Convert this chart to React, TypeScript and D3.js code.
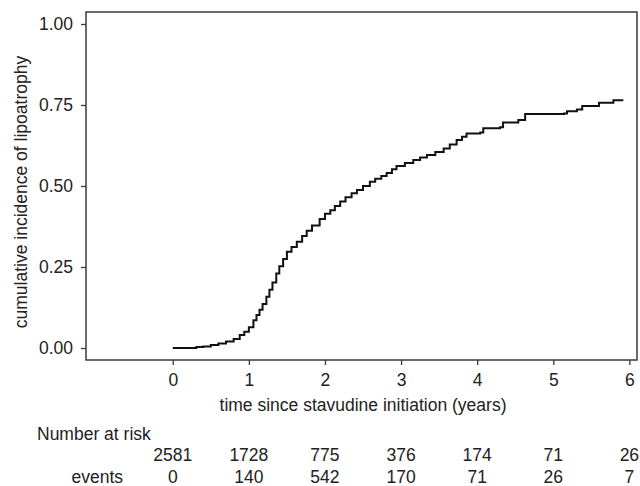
import * as d3 from "d3";
import { useEffect, useRef } from "react";

// cumulative incidence curve (years, proportion)
const times = [0, 0.31, 0.4, 0.5, 0.6, 0.7, 0.8, 0.88, 0.94, 1.0, 1.06, 1.1, 1.14, 1.18, 1.23, 1.27, 1.31, 1.36, 1.4, 1.45, 1.5, 1.56, 1.63, 1.7, 1.76, 1.83, 1.93, 2.0, 2.07, 2.13, 2.2, 2.27, 2.35, 2.42, 2.5, 2.59, 2.66, 2.74, 2.81, 2.88, 2.94, 3.05, 3.16, 3.25, 3.34, 3.45, 3.56, 3.64, 3.73, 3.8, 3.86, 4.04, 4.08, 4.3, 4.34, 4.54, 4.63, 5.14, 5.18, 5.31, 5.38, 5.6, 5.79, 5.92];
const incidence = [0, 0.003, 0.005, 0.009, 0.014, 0.02, 0.028, 0.04, 0.05, 0.064, 0.086, 0.102, 0.118, 0.136, 0.158, 0.18, 0.202, 0.23, 0.252, 0.275, 0.297, 0.312, 0.328, 0.346, 0.362, 0.378, 0.398, 0.414, 0.425, 0.438, 0.452, 0.465, 0.478, 0.488, 0.5, 0.513, 0.522, 0.531, 0.54, 0.552, 0.562, 0.571, 0.58, 0.588, 0.596, 0.605, 0.616, 0.628, 0.642, 0.652, 0.662, 0.665, 0.678, 0.681, 0.696, 0.704, 0.722, 0.724, 0.731, 0.736, 0.747, 0.757, 0.765, 0.765];

const xTicks = [0, 1, 2, 3, 4, 5, 6];
const yTicks = [0, 0.25, 0.5, 0.75, 1];
const atRisk = [2581, 1728, 775, 376, 174, 71, 26];
const events = [0, 140, 542, 170, 71, 26, 7];

const App = () => {
  const ref: any = useRef();

  useEffect(() => {
    const svg = d3.select(ref.current);
    svg.selectAll("*").remove();

    const font = "Liberation Sans, Arial, sans-serif";
    const fs = 17.5;
    const ink = "#222";
    const left = 86, right = 637, top = 12, bottom = 360;

    const x = d3.scaleLinear().domain([-1.14, 6.1]).range([left, right]);
    const y = d3.scaleLinear().domain([-0.037, 1.037]).range([bottom, top]);

    // frame
    svg.append("rect")
      .attr("x", left).attr("y", top)
      .attr("width", right - left).attr("height", bottom - top)
      .attr("fill", "none").attr("stroke", "#3a3a3a").attr("stroke-width", 1.5);

    // y axis
    const yAxis = svg.append("g")
      .attr("transform", `translate(${left},0)`)
      .call(d3.axisLeft(y).tickValues(yTicks).tickFormat(d3.format(".2f")).tickSize(5).tickPadding(8));
    yAxis.select(".domain").remove();

    // x axis
    const xAxis = svg.append("g")
      .attr("transform", `translate(0,${bottom})`)
      .call(d3.axisBottom(x).tickValues(xTicks).tickFormat(d3.format("d")).tickSize(5).tickPadding(9));
    xAxis.select(".domain").remove();

    svg.selectAll(".tick line").attr("stroke", "#3a3a3a").attr("stroke-width", 1.3);
    svg.selectAll(".tick text")
      .attr("font-family", font).attr("font-size", fs).attr("fill", ink);

    // axis titles
    svg.append("text")
      .attr("transform", `translate(27,192) rotate(-90)`)
      .attr("text-anchor", "middle")
      .attr("font-family", font).attr("font-size", fs).attr("fill", ink)
      .text("cumulative incidence of lipoatrophy");

    svg.append("text")
      .attr("x", 363).attr("y", 411)
      .attr("text-anchor", "middle")
      .attr("font-family", font).attr("font-size", fs).attr("fill", ink)
      .text("time since stavudine initiation (years)");

    // curve
    const data = times.map((t, i) => [t, incidence[i]] as [number, number]);
    const line = d3.line()
      .x((d: any) => x(d[0]))
      .y((d: any) => y(d[1]))
      .curve(d3.curveStepAfter);

    svg.append("path")
      .datum(data)
      .attr("fill", "none")
      .attr("stroke", "#111")
      .attr("stroke-width", 2)
      .attr("d", line as any);

    // risk table
    svg.append("text")
      .attr("x", 37).attr("y", 440)
      .attr("font-family", font).attr("font-size", fs).attr("fill", ink)
      .text("Number at risk");

    svg.append("g").selectAll("text")
      .data(atRisk)
      .join("text")
      .attr("x", (_d, i) => x(xTicks[i]))
      .attr("y", 461)
      .attr("text-anchor", "middle")
      .attr("font-family", font).attr("font-size", fs).attr("fill", ink)
      .text((d) => d);

    svg.append("text")
      .attr("x", 123).attr("y", 483)
      .attr("text-anchor", "end")
      .attr("font-family", font).attr("font-size", fs).attr("fill", ink)
      .text("events");

    svg.append("g").selectAll("text")
      .data(events)
      .join("text")
      .attr("x", (_d, i) => x(xTicks[i]))
      .attr("y", 483)
      .attr("text-anchor", "middle")
      .attr("font-family", font).attr("font-size", fs).attr("fill", ink)
      .text((d) => d);
  }, []);

  return (
    <svg
      ref={ref}
      width={640}
      height={486}
      style={{ position: "absolute", left: 0, top: 0, background: "#fff" }}
    />
  );
};

export default App;
